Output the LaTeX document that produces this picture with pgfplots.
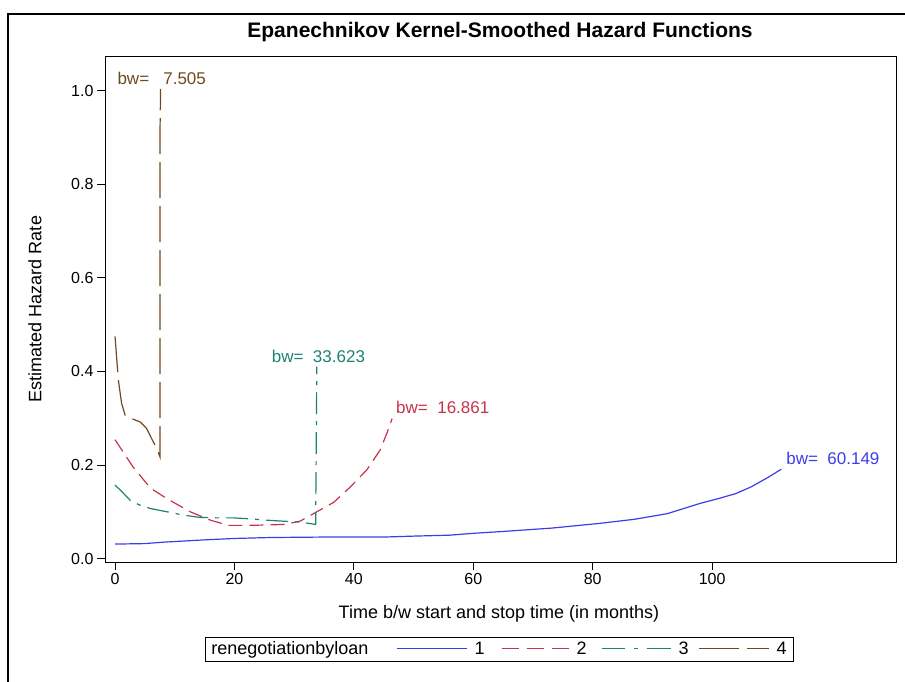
\documentclass[border=0pt]{standalone}
\usepackage{pgfplots}
\pgfplotsset{compat=1.18}
\usepackage{fontspec}
\setmainfont{Liberation Sans}
\definecolor{cblue}{RGB}{60,60,235}
\definecolor{cred}{RGB}{200,50,75}
\definecolor{cteal}{RGB}{30,130,115}
\definecolor{cbrown}{RGB}{110,75,30}
\newcommand{\lr}[1]{\rule[0.3em]{#1}{1.2pt}}
\begin{document}
\begin{tikzpicture}
\useasboundingbox (-105pt,-120pt) rectangle (800pt,562pt);
\draw[line width=1.2pt] (-97pt,-130pt) -- (-97pt,548pt) -- (810pt,548pt);
\begin{axis}[
  scale only axis, width=791pt, height=506pt,
  xmin=-1.68, xmax=130.8, ymin=-0.0073, ymax=1.074,
  xtick={0,20,40,60,80,100},
  ytick={0,0.2,0.4,0.6,0.8,1.0},
  yticklabel style={/pgf/number format/.cd, fixed, fixed zerofill, precision=1},
  /pgf/number format/assume math mode=true,
  tick align=outside, xtick pos=left, ytick pos=left,
  major tick length=8pt,
  tick style={black, line width=0.8pt},
  axis line style={black, line width=0.8pt},
  ticklabel style={font=\fontsize{16}{18}\selectfont},
  title={Epanechnikov Kernel-Smoothed Hazard Functions},
  title style={at={(axis description cs:0.4994,1.025)}, anchor=base, yshift=0pt, font=\bfseries\fontsize{21}{25}\selectfont},
  xlabel={Time b/w start and stop time (in months)},
  xlabel style={at={(axis description cs:0.498,-0.103)}, anchor=center, font=\fontsize{18}{20}\selectfont},
  ylabel={Estimated Hazard Rate},
  ylabel style={at={(axis description cs:-0.0885,0.5)}, anchor=center, rotate=0, font=\fontsize{18}{20}\selectfont},
]
\addplot[cblue, line width=1.2pt, line join=round] coordinates {
(0,0.031) (5,0.032) (8,0.035) (15,0.040) (20,0.043) (26,0.045) (35,0.046) (45,0.046)
(50,0.048) (56,0.050) (60,0.054) (65,0.058) (73,0.065) (81,0.075) (87,0.084)
(92.5,0.096) (98,0.118) (101,0.128) (104,0.139) (106.5,0.153) (109.3,0.173) (111.6,0.191)
};

\addplot[cred, line width=1.2pt, dash pattern=on 14pt off 7pt] coordinates {
(0,0.254) (1.5,0.225) (3,0.196) (5,0.165) (6,0.150) (8.7,0.128) (12.6,0.100) (16,0.082)
(19,0.071) (22.6,0.071) (26,0.072) (28.2,0.073) (31,0.080) (33.8,0.100) (36.6,0.120)
(39.4,0.153) (42.2,0.190) (44.4,0.232) (45.6,0.270) (46.4,0.299)
};

\addplot[cteal, line width=1.2pt, dash pattern=on 22pt off 7pt on 4pt off 7pt] coordinates {
(0,0.157) (1,0.145) (2.5,0.125) (4,0.115) (5.9,0.107) (8.7,0.100) (11.4,0.093) (14.2,0.088)
(17,0.087) (19.8,0.087) (22.5,0.085) (25.5,0.082) (28,0.080) (31,0.078) (33.6,0.073) (33.8,0.410)
};

\addplot[cbrown, line width=1.2pt, dash pattern=on 36pt off 8pt] coordinates {
(0,0.475) (0.3,0.424) (0.56,0.381) (1.1,0.332) (1.7,0.306) (2.8,0.299) (4.2,0.292) (5.3,0.278)
(6.1,0.257) (7.0,0.235) (7.54,0.217) (7.54,0.92) (7.6,0.97) (7.6,1.003)
};

\node[anchor=west, inner sep=0pt, text=cblue, font=\fontsize{17}{19}\selectfont] at (axis cs:112.4,0.2137) {bw=\ \ 60.149};
\node[anchor=west, inner sep=0pt, text=cred, font=\fontsize{17}{19}\selectfont] at (axis cs:47.06,0.3227) {bw=\ \ 16.861};
\node[anchor=west, inner sep=0pt, text=cteal, font=\fontsize{17}{19}\selectfont] at (axis cs:26.24,0.4328) {bw=\ \ 33.623};
\node[anchor=west, inner sep=0pt, text=cbrown, font=\fontsize{17}{19}\selectfont] at (axis cs:0.385,1.026) {bw=\ \ \ 7.505};
\end{axis}
\node[draw=black, line width=0.8pt, fill=white, inner xsep=6.5pt, inner ysep=3.5pt, anchor=center,
  font=\fontsize{18}{20}\selectfont] at (394pt,-87.5pt)
  {renegotiationbyloan\hspace{28pt}\textcolor{cblue}{\lr{70pt}}\hspace{8pt}1\hspace{17pt}\textcolor{cred}{\lr{17pt}\hspace{8pt}\lr{17pt}\hspace{8pt}\lr{17pt}}\hspace{8pt}2\hspace{15pt}\textcolor{cteal}{\lr{23pt}\hspace{9pt}\lr{4pt}\hspace{9pt}\lr{24pt}}\hspace{8pt}3\hspace{10pt}\textcolor{cbrown}{\lr{40pt}\hspace{8pt}\lr{22pt}}\hspace{8pt}4};
\end{tikzpicture}
\end{document}
